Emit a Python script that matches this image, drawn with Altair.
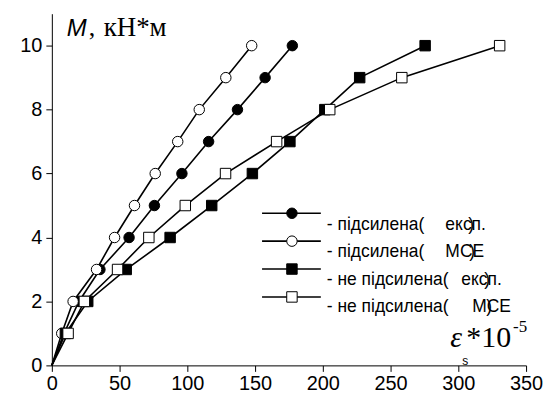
import altair as alt
import pandas as pd

# ---- data ----
M_values = [0, 1, 2, 3, 4, 5, 6, 7, 8, 9, 10]
eps_reinf_exp = [0, 9, 20, 35.5, 57, 75.7, 96, 115.7, 137, 157.4, 177.5]
eps_reinf_mse = [0, 7.3, 15.7, 33, 46.3, 61, 76.3, 92.9, 108.8, 128.4, 147.5]
eps_plain_exp = [0, 10, 26.5, 54.9, 87.3, 118, 148, 175.7, 201.5, 227.2, 275.5]
eps_plain_mse = [0, 12, 24, 48.5, 71.6, 98.5, 128.2, 165.9, 205.1, 258.3, 330.5]

series_names = ["підсилена (експ.)", "підсилена (МСЕ)", "не підсилена (експ.)", "не підсилена (МСЕ)"]
series_values = [eps_reinf_exp, eps_reinf_mse, eps_plain_exp, eps_plain_mse]
series_shapes = ["circle", "circle", "square", "square"]
series_fills = ["black", "white", "black", "white"]

legend_first = ["- підсилена(", "- підсилена(", "- не підсилена(", "- не підсилена("]
legend_second = ["експ.", "МСЕ", "експ.", "МСЕ"]

x_ticks = list(range(0, 351, 25))
y_ticks = list(range(0, 12))

rows = []
for name, vals in zip(series_names, series_values):
    for m, e in zip(M_values, vals):
        rows.append({"series": name, "eps": e, "M": m})
df = pd.DataFrame(rows)

W, H = 476, 353

x_scale = alt.Scale(domain=[0, 350], nice=False, zero=False)
y_scale = alt.Scale(domain=[0, 11], nice=False, zero=False)

x_axis = alt.Axis(
    values=x_ticks, title=None, grid=False,
    labelExpr="datum.value % 50 === 0 ? datum.label : ''",
    tickSize={"condition": {"test": "datum.value % 50 === 0", "value": 6}, "value": 3.5},
    labelFont="Liberation Sans", labelFontSize=20, labelColor="black",
    domainColor="black", tickColor="black", labelPadding=2, labelFlush=False,
)
y_axis = alt.Axis(
    values=y_ticks, title=None, grid=False,
    labelExpr="datum.value % 2 === 0 ? datum.label : ''",
    tickSize={"condition": {"test": "datum.value % 2 === 0", "value": 6}, "value": 3.5},
    labelFont="Liberation Sans", labelFontSize=20, labelColor="black",
    domainColor="black", tickColor="black", labelPadding=4, labelFlush=False,
)

shape_scale = alt.Scale(domain=series_names, range=series_shapes)
fill_scale = alt.Scale(domain=series_names, range=series_fills)

lines = alt.Chart(df).mark_line(color="black", strokeWidth=1.6).encode(
    x=alt.X("eps:Q", scale=x_scale, axis=x_axis),
    y=alt.Y("M:Q", scale=y_scale, axis=y_axis),
    detail="series:N",
    order="M:Q",
)

points = alt.Chart(df).transform_filter("datum.M > 0").mark_point(
    stroke="black", strokeWidth=1, opacity=1, filled=False
).encode(
    x=alt.X("eps:Q", scale=x_scale),
    y=alt.Y("M:Q", scale=y_scale),
    shape=alt.Shape("series:N", scale=shape_scale, legend=None),
    fill=alt.Fill("series:N", scale=fill_scale, legend=None),
    size=alt.value(110),
)

# ---- manual legend ----
leg = pd.DataFrame({
    "series": series_names,
    "first": legend_first,
    "second": legend_second,
    "row": [0, 1, 2, 3],
    "second_x": [395, 395, 411, 422],
    "paren_x": [418, 419, 434, 436],
})
row_line_y = "200.3 + datum.row * 28"
row_text_y = "217.5 + datum.row * 27.2"

leg_base = alt.Chart(leg).transform_calculate(
    ly=row_line_y, ty=row_text_y
)
leg_lines = leg_base.mark_rule(color="black", strokeWidth=1.6).encode(
    x=alt.value(211), x2=alt.value(270), y=alt.Y("ly:Q", scale=None)
)
leg_pts = leg_base.mark_point(stroke="black", strokeWidth=1, opacity=1).encode(
    x=alt.value(241), y=alt.Y("ly:Q", scale=None),
    shape=alt.Shape("series:N", scale=shape_scale, legend=None),
    fill=alt.Fill("series:N", scale=fill_scale, legend=None),
    size=alt.value(110),
)
txt_style = dict(font="Liberation Sans", fontSize=17.5, color="black", align="left", baseline="alphabetic")
leg_t1 = leg_base.mark_text(**txt_style).encode(
    x=alt.value(276), y=alt.Y("ty:Q", scale=None), text="first:N"
)
leg_t2 = leg_base.mark_text(**txt_style).encode(
    x=alt.X("second_x:Q", scale=None), y=alt.Y("ty:Q", scale=None), text="second:N"
)
leg_t3 = leg_base.mark_text(**txt_style).encode(
    x=alt.X("paren_x:Q", scale=None), y=alt.Y("ty:Q", scale=None), text=alt.value(")")
)

# ---- axis titles as text ----
t_M = alt.Chart(pd.DataFrame({"t": ["M"]})).mark_text(
    font="Liberation Sans", fontSize=24, fontStyle="italic", color="black", align="left", baseline="alphabetic"
).encode(x=alt.value(15), y=alt.value(22.5), text="t:N")
t_comma = alt.Chart(pd.DataFrame({"t": [","]})).mark_text(
    font="Liberation Serif", fontSize=26, color="black", align="left", baseline="alphabetic"
).encode(x=alt.value(37), y=alt.value(22.5), text="t:N")
t_unit = alt.Chart(pd.DataFrame({"t": ["кН*м"]})).mark_text(
    font="Liberation Serif", fontSize=27, color="black", align="left", baseline="alphabetic"
).encode(x=alt.value(52), y=alt.value(22.5), text="t:N")

t_eps = alt.Chart(pd.DataFrame({"t": ["ε"]})).mark_text(
    font="Liberation Serif", fontSize=30, fontStyle="italic", color="black", align="left", baseline="alphabetic"
).encode(x=alt.value(400), y=alt.value(335), text="t:N")
t_ten = alt.Chart(pd.DataFrame({"t": ["*10"]})).mark_text(
    font="Liberation Serif", fontSize=30, color="black", align="left", baseline="alphabetic"
).encode(x=alt.value(416), y=alt.value(335), text="t:N")
t_exp = alt.Chart(pd.DataFrame({"t": ["-5"]})).mark_text(
    font="Liberation Serif", fontSize=17, color="black", align="left", baseline="alphabetic"
).encode(x=alt.value(463), y=alt.value(319), text="t:N")
t_sub = alt.Chart(pd.DataFrame({"t": ["s"]})).mark_text(
    font="Liberation Sans", fontSize=12, color="black", align="left", baseline="alphabetic"
).encode(x=alt.value(412), y=alt.value(353), text="t:N")

chart = alt.layer(
    lines, points, leg_lines, leg_pts, leg_t1, leg_t2, leg_t3,
    t_M, t_comma, t_unit, t_eps, t_ten, t_exp, t_sub
).properties(
    width=W, height=H,
    autosize=alt.AutoSizeParams(type="none"),
    padding={"left": 44, "top": 5, "right": 20, "bottom": 29},
    background="white",
).configure_view(stroke=None)

chart.save("out.html", embed_options={"renderer": "svg", "actions": False})
